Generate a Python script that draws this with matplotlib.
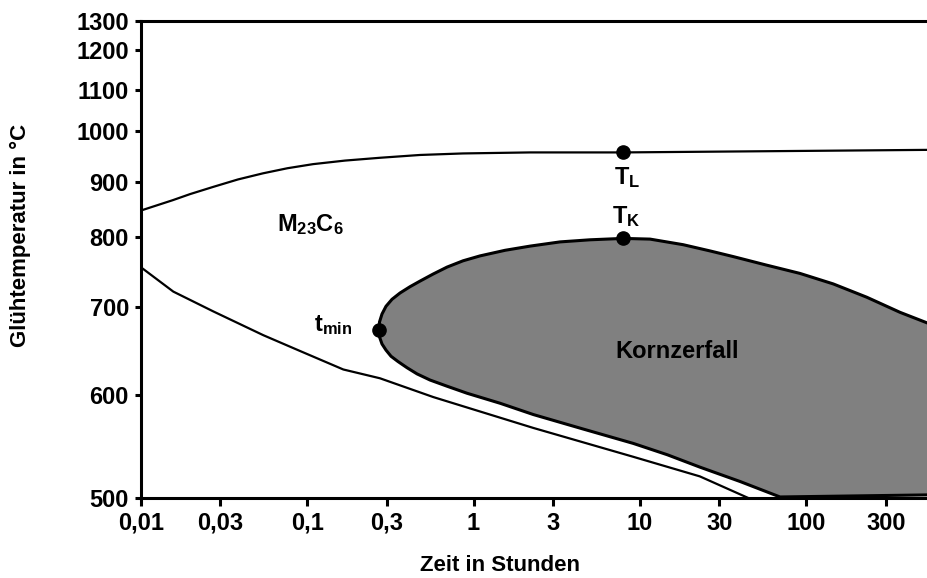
import numpy as np
import matplotlib
matplotlib.use("Agg")
import matplotlib.pyplot as plt

plt.rcParams['font.family'] = ['Liberation Sans', 'DejaVu Sans']
plt.rcParams['font.weight'] = 'bold'
plt.rcParams['mathtext.fontset'] = 'custom'
plt.rcParams['mathtext.rm'] = 'Liberation Sans:bold'
plt.rcParams['mathtext.it'] = 'Liberation Sans:bold'
plt.rcParams['mathtext.bf'] = 'Liberation Sans:bold'

# axis ticks
time_ticks = [0.01, 0.03, 0.1, 0.3, 1, 3, 10, 30, 100, 300]
time_labels = ['0,01', '0,03', '0,1', '0,3', '1', '3', '10', '30', '100', '300']
temp_ticks = [500, 600, 700, 800, 900, 1000, 1100, 1200, 1300]
# the temperature axis is not linear: relative height of every tick
temp_tick_height = [0, 103, 191, 261, 316, 367, 408, 448, 477]

# M23C6 solvus (upper line)
solvus_t = [0.01, 0.0156, 0.0198, 0.0272, 0.0384, 0.0543, 0.0762, 0.1085, 0.169,
            0.274, 0.477, 0.865, 2.19, 7.94, 531]
solvus_T = [848, 867, 878, 891, 905, 917, 927, 935, 942,
            947.5, 953, 956, 958, 958, 963]

# start of precipitation (lower thin line)
start_t = [0.01, 0.0157, 0.0273, 0.0545, 0.0907, 0.165, 0.274, 0.573, 2.29, 9.12, 22.9, 44.8]
start_T = [757, 722, 695, 668, 650, 629, 619, 598, 568, 540, 521, 500]

# Kornzerfall region, upper branch from t_min to the right edge
upper_t = [0.270, 0.2723, 0.2818, 0.2979, 0.3237, 0.3616, 0.4153, 0.477, 0.571, 0.693,
           0.865, 1.094, 1.547, 2.19, 3.31, 5.01, 7.94, 11.5, 18.2, 26.5,
           36.4, 57.3, 91.5, 145, 230.6, 365, 531]
upper_T = [674, 683, 692, 701, 711, 720, 729, 737, 747, 757,
           766, 773, 781, 787, 793, 796, 798, 797, 789, 780,
           772, 760, 748, 733, 714, 694, 682]
# lower branch from t_min down to the time axis and along it
lower_t = [0.270, 0.2723, 0.2818, 0.2979, 0.3194, 0.3518, 0.3985, 0.4575, 0.5479, 0.693,
           0.914, 1.443, 2.29, 4.55, 9.12, 14.6, 22.9, 40, 69.5, 531]
lower_T = [674, 666, 658, 651, 644, 638, 631, 624, 617, 610,
           602, 592, 581, 567, 553, 542, 530, 516, 501, 503]

# marked points
t_min = (0.270, 674)
T_K = (7.94, 798)
T_L = (7.94, 958)


def temp_forward(T):
    return np.interp(T, temp_ticks, temp_tick_height)


def temp_inverse(h):
    return np.interp(h, temp_tick_height, temp_ticks)


fig = plt.figure(figsize=(9.27, 5.78), dpi=100)
ax = fig.add_axes([140.7 / 927, 80 / 578, 786.3 / 927, 477 / 578])
ax.set_xscale('log')
ax.set_yscale('function', functions=(temp_forward, temp_inverse))

# grain decay area
ax.fill(upper_t + lower_t[::-1], upper_T + lower_T[::-1], color='#808080', lw=0, zorder=1)
ax.plot(upper_t, upper_T, color='black', lw=2.2, zorder=3, solid_joinstyle='round')
ax.plot(lower_t, lower_T, color='black', lw=2.2, zorder=3, solid_joinstyle='round')

ax.plot(solvus_t, solvus_T, color='black', lw=1.6, zorder=2, solid_joinstyle='round')
ax.plot(start_t, start_T, color='black', lw=1.6, zorder=2, solid_joinstyle='round')

for pt in [t_min, T_K, T_L]:
    ax.plot(pt[0], pt[1], 'o', color='black', ms=9.5, zorder=4)

ax.text(0.0656, 810, 'M$_{23}$C$_6$', fontsize=17, ha='left', va='baseline')
ax.text(0.188, 673, 't$_{min}$', fontsize=17, ha='right', va='baseline')
ax.text(8.37, 897, 'T$_L$', fontsize=17, ha='center', va='baseline')
ax.text(8.3, 826, 'T$_K$', fontsize=17, ha='center', va='baseline')
ax.text(16.8, 642, 'Kornzerfall', fontsize=17, ha='center', va='baseline')

ax.set_xlim(0.01, 531)
ax.set_ylim(500, 1300)
ax.set_xticks(time_ticks)
ax.set_xticklabels(time_labels)
ax.xaxis.set_minor_locator(matplotlib.ticker.NullLocator())
ax.set_yticks(temp_ticks)
ax.set_yticklabels([str(v) for v in temp_ticks])
ax.yaxis.set_minor_locator(matplotlib.ticker.NullLocator())
ax.tick_params(axis='x', labelsize=17, length=6, width=2.2, pad=4)
ax.tick_params(axis='y', labelsize=17, length=4.5, width=2.2, pad=4)

for side in ['left', 'bottom', 'top']:
    ax.spines[side].set_linewidth(2.2)
ax.spines['right'].set_visible(False)

ax.set_xlabel('Zeit in Stunden', fontsize=16, fontweight='bold')
ax.xaxis.set_label_coords(0.457, -0.141)
ax.xaxis.label.set_va('center')
ax.set_ylabel('Glühtemperatur in °C', fontsize=16, fontweight='bold')
ax.yaxis.set_label_coords(-0.1535, 0.550)
ax.yaxis.label.set_va('center')
ax.yaxis.label.set_ha('center')

fig.savefig('out.png', dpi=100)
